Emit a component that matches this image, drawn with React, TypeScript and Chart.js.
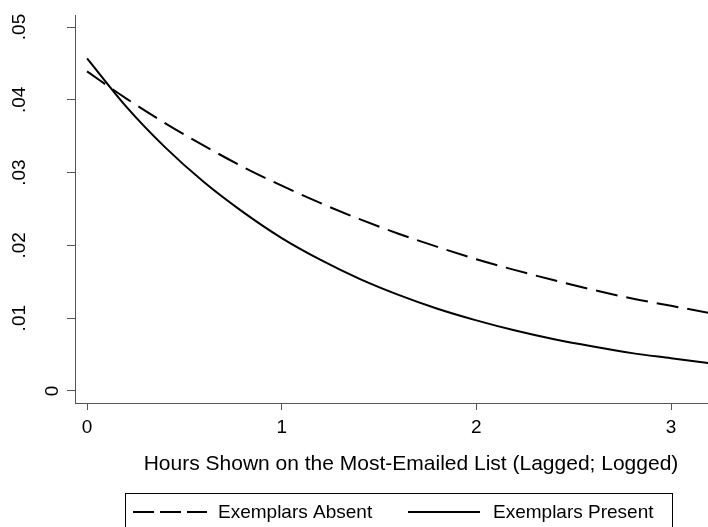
import React, { useEffect, useRef } from "react";
import { Chart, registerables } from "chart.js";

Chart.register(...registerables);

const xPoints = [0, 0.2, 0.4, 0.6, 0.8, 1.0, 1.2, 1.4, 1.6, 1.8, 2.0, 2.2, 2.4, 2.6, 2.8, 3.0, 3.2];
const absentValues = [0.0439, 0.0402, 0.0368, 0.0337, 0.0308, 0.0282, 0.0258, 0.0236, 0.0216, 0.0198, 0.0181, 0.0166, 0.0152, 0.0139, 0.0127, 0.0117, 0.0107];
const presentValues = [0.0457, 0.0391, 0.0335, 0.0287, 0.0246, 0.021, 0.018, 0.0154, 0.0132, 0.0113, 0.0097, 0.0083, 0.0071, 0.0061, 0.0052, 0.0045, 0.0038];
const seriesLabels = ["Exemplars Absent", "Exemplars Present"];
const xTickValues = [0, 1, 2, 3];
const xTickLabels = ["0", "1", "2", "3"];
const yTickValues = [0, 0.01, 0.02, 0.03, 0.04, 0.05];
const yTickLabels = ["0", ".01", ".02", ".03", ".04", ".05"];
const xAxisTitle = "Hours Shown on the Most-Emailed List (Lagged; Logged)";

const FONT = "'Liberation Sans', Arial, Helvetica, sans-serif";
const AXIS_COLOR = "#555555";

const textPlugin = {
  id: "stataText",
  afterDraw(chart: any) {
    const ctx = chart.ctx as CanvasRenderingContext2D;
    const xs = chart.scales.x;
    const ys = chart.scales.y;
    const area = chart.chartArea;
    ctx.save();
    ctx.fillStyle = "#000";
    // y tick labels (rotated)
    ctx.font = `19px ${FONT}`;
    const w0 = ctx.measureText("0").width;
    yTickValues.forEach((v, i) => {
      const lab = yTickLabels[i];
      const w = ctx.measureText(lab).width;
      const bx = area.left - 17 - 2.1 * (w - w0);
      const py = ys.getPixelForValue(v);
      ctx.save();
      ctx.translate(bx, py);
      ctx.rotate(-Math.PI / 2);
      ctx.textAlign = "center";
      ctx.textBaseline = "alphabetic";
      ctx.fillText(lab, 0, 0);
      ctx.restore();
    });
    // x tick labels
    ctx.textAlign = "center";
    ctx.textBaseline = "alphabetic";
    xTickValues.forEach((v, i) => {
      ctx.fillText(xTickLabels[i], xs.getPixelForValue(v), area.bottom + 30);
    });
    // axis title
    ctx.font = `21px ${FONT}`;
    ctx.fillText(xAxisTitle, 411, area.bottom + 67);
    // legend
    const boxL = 125, boxT = 493, boxR = 672;
    ctx.strokeStyle = "#000";
    ctx.lineWidth = 1;
    ctx.strokeRect(boxL + 0.5, boxT + 0.5, boxR - boxL, 60);
    const ly = 512;
    ctx.lineWidth = 2;
    ctx.setLineDash([21, 6]);
    ctx.beginPath();
    ctx.moveTo(133, ly);
    ctx.lineTo(207, ly);
    ctx.stroke();
    ctx.setLineDash([]);
    ctx.beginPath();
    ctx.moveTo(408, ly);
    ctx.lineTo(480, ly);
    ctx.stroke();
    ctx.font = `19px ${FONT}`;
    ctx.textAlign = "left";
    ctx.fillText(seriesLabels[0], 218, 518);
    ctx.fillText(seriesLabels[1], 493, 518);
    ctx.restore();
  },
};

export default function App() {
  const ref = useRef<HTMLCanvasElement | null>(null);
  useEffect(() => {
    document.body.style.margin = "0";
    document.body.style.background = "#fff";
    const canvas = ref.current!;
    const chart = new Chart(canvas, {
      type: "line",
      data: {
        datasets: [
          {
            label: seriesLabels[0],
            data: xPoints.map((x, i) => ({ x, y: absentValues[i] })),
            borderColor: "#000",
            borderWidth: 2,
            borderDash: [22, 9],
            pointRadius: 0,
            cubicInterpolationMode: "monotone",
            fill: false,
          },
          {
            label: seriesLabels[1],
            data: xPoints.map((x, i) => ({ x, y: presentValues[i] })),
            borderColor: "#000",
            borderWidth: 2,
            pointRadius: 0,
            cubicInterpolationMode: "monotone",
            fill: false,
          },
        ],
      },
      options: {
        animation: false,
        responsive: false,
        maintainAspectRatio: false,
        devicePixelRatio: 1,
        layout: { padding: { top: 15, right: 0, left: 0, bottom: 0 } },
        plugins: { legend: { display: false }, tooltip: { enabled: false }, title: { display: false } },
        scales: {
          x: {
            type: "linear",
            min: -0.062,
            max: 3.19,
            afterBuildTicks: (s: any) => {
              s.ticks = xTickValues.map((v) => ({ value: v }));
            },
            afterFit: (s: any) => {
              s.height = 124;
            },
            ticks: { display: false },
            grid: { drawOnChartArea: false, drawTicks: true, tickLength: 7, color: AXIS_COLOR, lineWidth: 1 },
            border: { display: true, color: AXIS_COLOR, width: 1 },
          },
          y: {
            type: "linear",
            min: -0.00165,
            max: 0.05165,
            afterBuildTicks: (s: any) => {
              s.ticks = yTickValues.map((v) => ({ value: v }));
            },
            afterFit: (s: any) => {
              s.width = 75;
            },
            ticks: { display: false },
            grid: { drawOnChartArea: false, drawTicks: true, tickLength: 8, color: AXIS_COLOR, lineWidth: 1 },
            border: { display: true, color: AXIS_COLOR, width: 1 },
          },
        },
      },
      plugins: [textPlugin],
    } as any);
    return () => chart.destroy();
  }, []);
  return (
    <div style={{ width: 708, height: 527, position: "relative" }}>
      <canvas ref={ref} width={708} height={527} style={{ display: "block", width: 708, height: 527 }} />
    </div>
  );
}
